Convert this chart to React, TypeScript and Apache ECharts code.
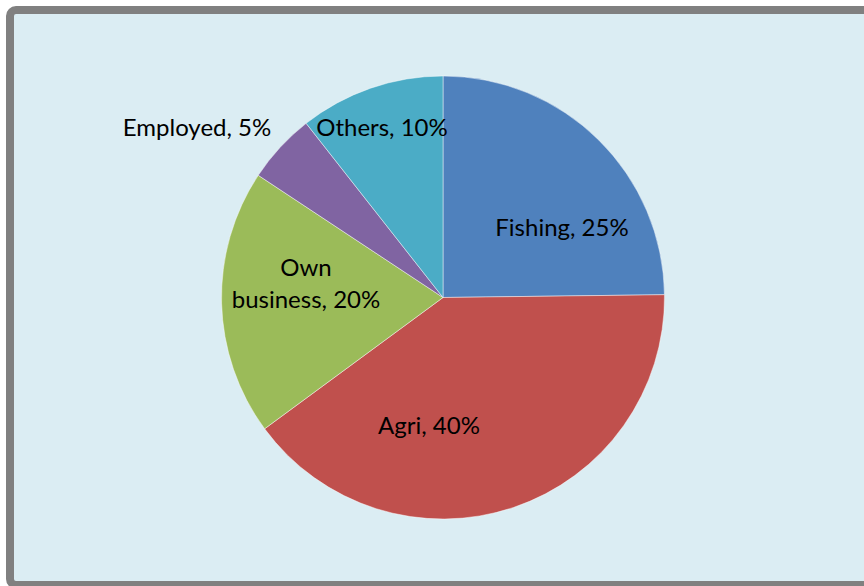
import React, { useEffect, useRef } from "react";
import * as echarts from "echarts";

const categories = ["Fishing", "Agri", "Own business", "Employed", "Others"];
const values = [24.8, 40.1, 19.4, 5.1, 10.6];
const labelTexts = ["Fishing, 25%", "Agri, 40%", "Own\nbusiness, 20%", "Employed, 5%", "Others, 10%"];

const colors = ["#4F81BD", "#C0504D", "#9BBB59", "#8064A2", "#4BACC6"];
const labelAnchors: [number, number][] = [
  [562, 226],
  [429, 424],
  [306, 282],
  [197, 126],
  [382, 126],
];

export default function App() {
  const ref = useRef<HTMLDivElement>(null);
  useEffect(() => {
    document.body.style.margin = "0";
    const chart = echarts.init(ref.current!, null, { renderer: "svg" });
    chart.setOption({
      animation: false,
      backgroundColor: "#ffffff",
      graphic: [
        {
          type: "rect",
          z: -10,
          shape: { x: 10, y: 10, width: 872, height: 575, r: 6 },
          style: { fill: "#DBEDF3", stroke: "#808080", lineWidth: 8 },
        },
      ],
      series: [
        {
          type: "pie",
          center: [443, 297.5],
          radius: 221.5,
          startAngle: 90,
          clockwise: true,
          silent: true,
          itemStyle: { borderColor: "rgba(255,255,255,0.45)", borderWidth: 1 },
          label: {
            show: true,
            position: "inside",
            color: "#000000",
            fontFamily: "Lato",
            fontSize: 24,
            lineHeight: 32,
            align: "center",
            verticalAlign: "middle",
            formatter: (p: any) => labelTexts[p.dataIndex],
          },
          labelLine: { show: false },
          labelLayout: (p: any) => ({ x: labelAnchors[p.dataIndex][0], y: labelAnchors[p.dataIndex][1], align: "center", verticalAlign: "middle" }),
          data: categories.map((name, i) => ({
            name,
            value: values[i],
            itemStyle: { color: colors[i] },
          })),
        },
      ],
    });
    return () => chart.dispose();
  }, []);
  return <div ref={ref} style={{ position: "absolute", left: 0, top: 0, width: 864, height: 586 }} />;
}
